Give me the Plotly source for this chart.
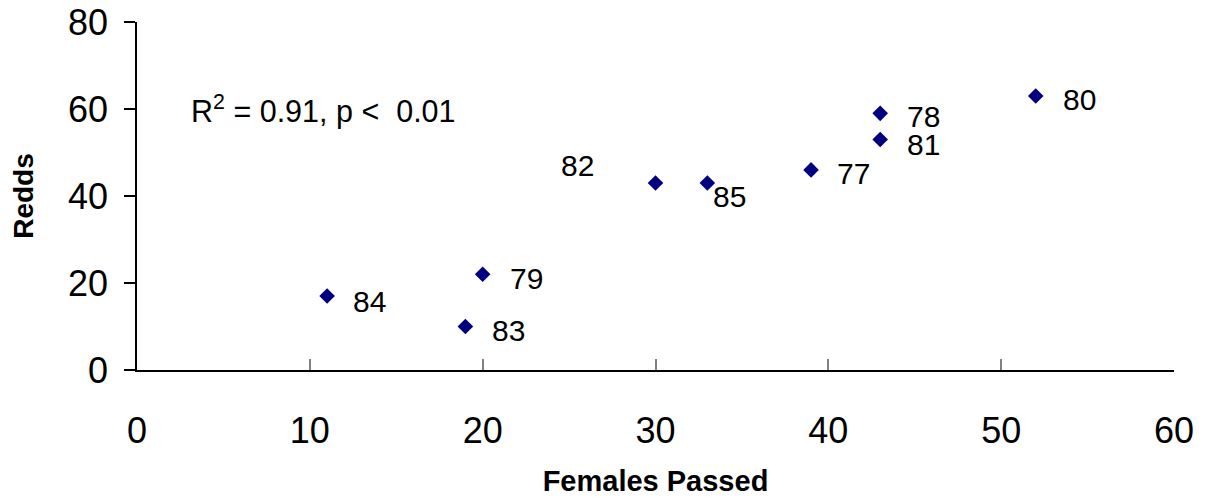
import plotly.graph_objects as go

# Females passed vs. redds counted, by year
females_passed = [39, 43, 20, 52, 43, 30, 19, 11, 33]
redds = [46, 59, 22, 63, 53, 43, 10, 17, 43]
years = ["77", "78", "79", "80", "81", "82", "83", "84", "85"]

x_ticks = [0, 10, 20, 30, 40, 50, 60]
y_ticks = [0, 20, 40, 60, 80]

stat_text = "R<sup>2</sup> = 0.91, p &lt;&nbsp; 0.01"

FONT = "Liberation Sans, Arial, sans-serif"

# pixel offsets of each year label from its point (left edge, vertical centre)
label_offsets = {
    "77": (24, -4), "78": (25, -3), "79": (25, -4), "80": (25, -4),
    "81": (25, -5), "82": (-97, 17), "83": (25, -4), "84": (24, -5),
    "85": (4, -14),
}

fig = go.Figure()
fig.add_trace(go.Scatter(
    x=females_passed, y=redds, mode="markers",
    marker=dict(symbol="diamond", size=12, color="#000080"),
    showlegend=False, hoverinfo="skip",
))

for xv, yv, yr in zip(females_passed, redds, years):
    dx, dy = label_offsets[yr]
    fig.add_annotation(
        x=xv, y=yv, text=yr, showarrow=False,
        xanchor="left", yanchor="middle", xshift=dx, yshift=dy,
        font=dict(family=FONT, size=30, color="black"),
    )

fig.add_annotation(
    x=3, y=60, text=stat_text, showarrow=False,
    xanchor="left", yanchor="middle", xshift=0, yshift=0,
    font=dict(family=FONT, size=30.5, color="black"),
)

# x-axis line continues a little past the y-axis
fig.add_shape(
    type="line", xref="paper", yref="y", x0=-0.0106, x1=0, y0=0, y1=0,
    line=dict(color="black", width=1.5),
)

fig.update_layout(
    width=1207, height=498,
    margin=dict(l=137, r=33, t=22, b=128, autoexpand=False),
    paper_bgcolor="white", plot_bgcolor="white",
    font=dict(family=FONT, color="black"),
    xaxis=dict(
        range=[0, 60], tickvals=x_ticks, showgrid=False, zeroline=False,
        showline=True, linecolor="black", linewidth=1.5,
        ticks="inside", ticklen=11, tickwidth=1.5, tickcolor="#808080",
        tickfont=dict(family=FONT, size=36, color="black"),
        ticklabelstandoff=28, automargin=False,
        title=dict(text="<b>Females Passed</b>", standoff=21,
                   font=dict(family=FONT, size=29, color="black")),
    ),
    yaxis=dict(
        range=[0, 80], tickvals=y_ticks, showgrid=False, zeroline=False,
        showline=True, linecolor="black", linewidth=1.5,
        ticks="outside", ticklen=11, tickwidth=1.5, tickcolor="black",
        tickfont=dict(family=FONT, size=36, color="black"),
        ticklabelstandoff=9, automargin=False,
        title=dict(text="<b>Redds</b>", standoff=26,
                   font=dict(family=FONT, size=28, color="black")),
    ),
)

fig.write_html("out.html")
